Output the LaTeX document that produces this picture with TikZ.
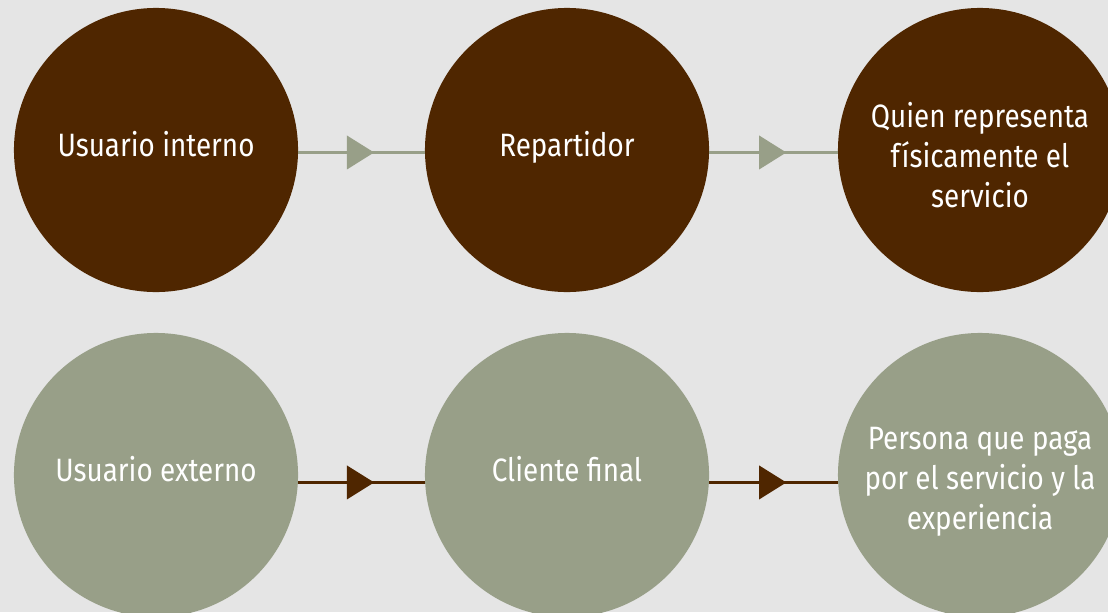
\documentclass[tikz,border=0pt]{standalone}
\usepackage{fontspec}
\setmainfont[FakeStretch=0.86]{Fira Sans}
\usetikzlibrary{arrows.meta,decorations.markings}
\definecolor{cafe}{HTML}{4F2600}
\definecolor{salvia}{HTML}{989F88}
\definecolor{fondo}{HTML}{E5E5E5}
\tikzset{
  rol/.style={circle,inner sep=0pt,minimum size=7.1cm,text=white,align=center,
    font=\fontsize{23}{28.5}\selectfont},
  una/.style={text height=17pt,text depth=8pt},
  tres/.style={text height=#1,text depth=5pt},
  flecha/.style={line width=2.2pt,decoration={markings,
    mark=at position 0.6 with {\arrow{Triangle[length=0.68cm,width=0.83cm]}}},
    postaction={decorate}}
}
\begin{document}
\begin{tikzpicture}[x=0.025cm,y=-0.025cm]
\fill[fondo] (0,0) rectangle (1108,612);
\useasboundingbox (0,0) rectangle (1108,612);
% fila de arriba
\node[rol,una,fill=cafe] (ui) at (156,150) {Usuario interno};
\node[rol,una,fill=cafe] (rep) at (567,150) {Repartidor};
\node[rol,tres=87pt,fill=cafe] (qr) at (980,150) {Quien representa\\físicamente el\\servicio};
\draw[flecha,salvia] (ui.-1) -- (rep.181);
\draw[flecha,salvia] (rep.-1) -- (qr.181);
% fila de abajo
\node[rol,una,fill=salvia] (ue) at (156,475) {Usuario externo};
\node[rol,una,fill=salvia] (cf) at (567,475) {Cliente final};
\node[rol,tres=83pt,fill=salvia] (pp) at (980,475) {Persona que paga\\por el servicio y la\\experiencia};
\draw[flecha,cafe] (ue.-3) -- (cf.183);
\draw[flecha,cafe] (cf.-3) -- (pp.183);
\end{tikzpicture}
\end{document}
